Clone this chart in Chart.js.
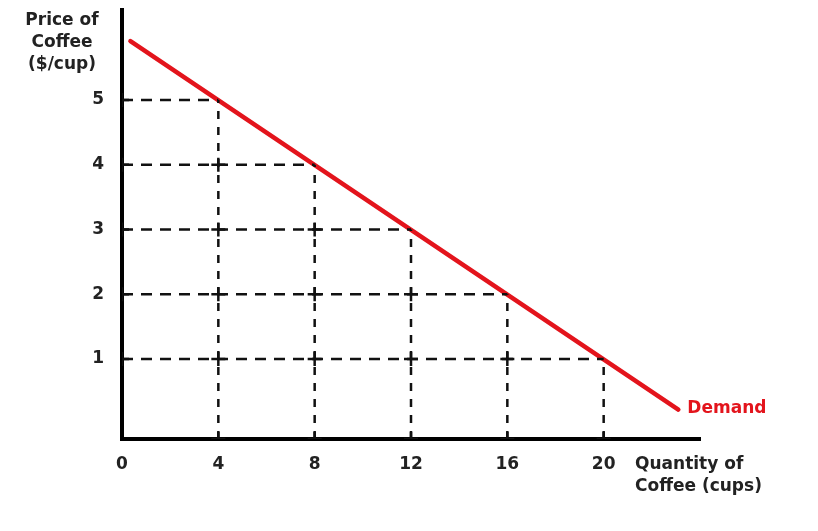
<!DOCTYPE html>
<html>
<head>
<meta charset="utf-8">
<script src="https://cdn.jsdelivr.net/npm/chart.js@4.4.0/dist/chart.umd.min.js"></script>
<style>
html,body{margin:0;padding:0;background:#fff;}
#wrap{width:818px;height:531px;}
</style>
</head>
<body>
<div id="wrap"><canvas id="c" width="818" height="531"></canvas></div>
<script>
// Data
const priceLevels = [1, 2, 3, 4, 5];
const quantityTicks = [0, 4, 8, 12, 16, 20];
const demandLine = [{x: 0.35, y: 5.91}, {x: 23.1, y: 0.22}];
const demandPoints = [ {q: 4, p: 5}, {q: 8, p: 4}, {q: 12, p: 3}, {q: 16, p: 2}, {q: 20, p: 1} ];
const yAxisTitle = ['Price of', 'Coffee', '($/cup)'];
const xAxisTitle = ['Quantity of', 'Coffee (cups)'];
const demandLabel = 'Demand';

const Y_MIN = -0.235, Y_MAX = 6.39, X_MIN = 0, X_MAX = 24;
const FAMILY = '"DejaVu Sans", Verdana, sans-serif';
const FONT = 'bold 17px ' + FAMILY;
const TEXT = '#222';

const hDash = {borderColor: '#111', borderWidth: 2.5, borderDash: [11, 8], pointRadius: 0, showLine: true, fill: false};
const vDash = {borderColor: '#111', borderWidth: 2.5, borderDash: [8, 8], pointRadius: 0, showLine: true, fill: false};
const datasets = [];
demandPoints.forEach(d => {
  datasets.push(Object.assign({data: [{x: X_MIN, y: d.p}, {x: d.q, y: d.p}]}, hDash));
  datasets.push(Object.assign({data: [{x: d.q, y: Y_MIN}, {x: d.q, y: d.p}]}, vDash));
});
// crosses where guides meet each other and the axes
const crosses = [];
demandPoints.forEach(d => {
  demandPoints.forEach(e => {
    if (e.q < d.q) crosses.push({x: e.q, y: d.p});
  });
  crosses.push({x: X_MIN, y: d.p});
  crosses.push({x: d.q, y: Y_MIN});
});
datasets.push({data: crosses, showLine: false, pointStyle: 'cross', pointRadius: 7, pointBorderColor: '#111', pointBorderWidth: 2.5, pointBackgroundColor: '#111'});
datasets.push({data: demandLine, showLine: true, borderColor: '#e3141c', borderWidth: 4.5, pointRadius: 0, borderCapStyle: 'round', fill: false});

const textPlugin = {
  id: 'texts',
  afterDraw(chart) {
    const ctx = chart.ctx;
    const xs = chart.scales.x, ys = chart.scales.y;
    ctx.save();
    ctx.font = FONT;
    ctx.fillStyle = TEXT;
    ctx.textBaseline = 'middle';
    ctx.textAlign = 'center';
    yAxisTitle.forEach((t, i) => ctx.fillText(t, 62, 21 + i * 22));
    ctx.textAlign = 'left';
    xAxisTitle.forEach((t, i) => ctx.fillText(t, 635, 465 + i * 22));
    ctx.fillStyle = '#e3141c';
    const last = demandLine[demandLine.length - 1];
    ctx.fillText(demandLabel, xs.getPixelForValue(last.x) + 9, ys.getPixelForValue(last.y) - 1);
    ctx.restore();
  }
};

new Chart(document.getElementById('c'), {
  type: 'scatter',
  data: {datasets},
  options: {
    responsive: false,
    animation: false,
    layout: {padding: {left: 0, right: 118, top: 10, bottom: 0}},
    plugins: {legend: {display: false}, tooltip: {enabled: false}},
    scales: {
      x: {
        type: 'linear', min: X_MIN, max: X_MAX,
        afterBuildTicks: s => { s.ticks = quantityTicks.map(v => ({value: v})); },
        afterFit: s => { s.height = 92; s.paddingLeft = 0; s.paddingRight = 0; },
        grid: {display: false, drawTicks: false},
        border: {display: true, color: '#000', width: 4},
        ticks: {font: {family: FAMILY, size: 17, weight: 'bold'}, color: TEXT, padding: 15, maxRotation: 0}
      },
      y: {
        type: 'linear', min: Y_MIN, max: Y_MAX,
        afterBuildTicks: s => { s.ticks = priceLevels.map(v => ({value: v})); },
        afterFit: s => { s.width = 122; s.paddingTop = 0; s.paddingBottom = 0; },
        grid: {display: false, drawTicks: false},
        border: {display: true, color: '#000', width: 4},
        ticks: {font: {family: FAMILY, size: 17, weight: 'bold'}, color: TEXT, padding: 18}
      }
    }
  },
  plugins: [textPlugin]
});
</script>
</body>
</html>
